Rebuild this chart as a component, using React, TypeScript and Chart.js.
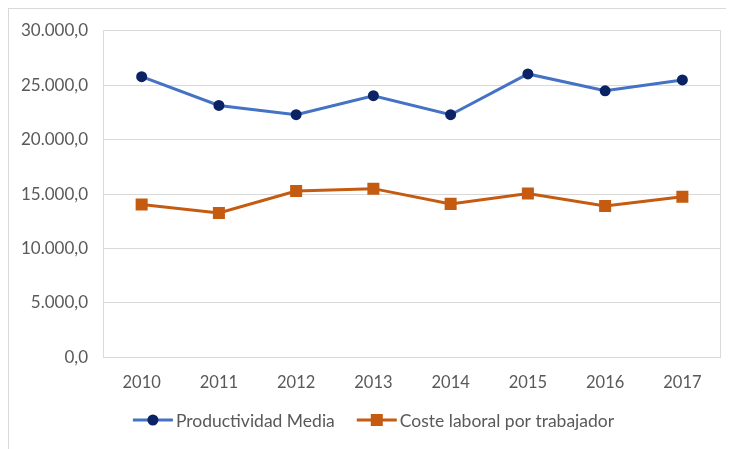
import React, { useEffect, useRef } from "react";
import { Chart, registerables } from "chart.js";

Chart.register(...registerables);

const years = ["2010", "2011", "2012", "2013", "2014", "2015", "2016", "2017"];
const productividadMedia = [25800, 23150, 22300, 24050, 22300, 26050, 24500, 25500];
const costeLaboral = [14050, 13270, 15280, 15500, 14100, 15050, 13900, 14750];
const seriesNames = ["Productividad Media", "Coste laboral por trabajador"];

const FONT = "Lato, 'Noto Sans', sans-serif";
const TEXT = "#595959";
const GRID = "#d9d9d9";
const BLUE = "#4472C4";
const NAVY = "#0B2265";
const ORANGE = "#C55A11";

const fmt = (v: number) =>
  v.toLocaleString("de-DE", { minimumFractionDigits: 1, maximumFractionDigits: 1 });

const sideBorders = {
  id: "sideBorders",
  beforeDatasetsDraw(chart: any) {
    const { ctx, chartArea } = chart;
    ctx.save();
    ctx.strokeStyle = GRID;
    ctx.lineWidth = 1;
    ctx.beginPath();
    ctx.moveTo(chartArea.left + 0.5, chartArea.top);
    ctx.lineTo(chartArea.left + 0.5, chartArea.bottom);
    ctx.moveTo(chartArea.right - 0.5, chartArea.top);
    ctx.lineTo(chartArea.right - 0.5, chartArea.bottom);
    ctx.stroke();
    ctx.restore();
  },
};

// Legend drawn as line + marker + text, like the spreadsheet legend
const lineLegend = {
  id: "lineLegend",
  afterDraw(chart: any) {
    const { ctx } = chart;
    const ds = chart.data.datasets;
    ctx.save();
    ctx.font = `17.5px ${FONT}`;
    ctx.textBaseline = "middle";
    const iconW = 40;
    const gapText = 3;
    const gapItem = 22;
    const widths = ds.map((d: any) => ctx.measureText(d.label).width);
    const total =
      widths.reduce((a: number, b: number) => a + b, 0) +
      ds.length * (iconW + gapText) +
      (ds.length - 1) * gapItem;
    let x = chart.width / 2 + 2 - total / 2;
    const y = chart.height - 29;
    ds.forEach((d: any, i: number) => {
      ctx.strokeStyle = d.borderColor;
      ctx.lineWidth = 3;
      ctx.beginPath();
      ctx.moveTo(x, y);
      ctx.lineTo(x + iconW, y);
      ctx.stroke();
      ctx.fillStyle = d.pointBackgroundColor;
      if (d.pointStyle === "circle") {
        ctx.beginPath();
        ctx.arc(x + iconW / 2, y, 5.5, 0, Math.PI * 2);
        ctx.fill();
      } else {
        ctx.fillRect(x + iconW / 2 - 6, y - 6, 12, 12);
      }
      ctx.fillStyle = TEXT;
      ctx.textAlign = "left";
      ctx.fillText(d.label, x + iconW + gapText, y + 1);
      x += iconW + gapText + widths[i] + gapItem;
    });
    ctx.restore();
  },
};

export default function App() {
  const ref = useRef<HTMLCanvasElement>(null);
  useEffect(() => {
    document.documentElement.style.overflow = "hidden";
    const chart = new Chart(ref.current!, {
      type: "line",
      data: {
        labels: years,
        datasets: [
          {
            label: seriesNames[0],
            data: productividadMedia,
            borderColor: BLUE,
            borderWidth: 3,
            pointStyle: "circle",
            pointRadius: 5.5,
            pointBackgroundColor: NAVY,
            pointBorderColor: NAVY,
            pointBorderWidth: 0,
          },
          {
            label: seriesNames[1],
            data: costeLaboral,
            borderColor: ORANGE,
            borderWidth: 3,
            pointStyle: "rect",
            pointRadius: 8.5,
            pointBackgroundColor: ORANGE,
            pointBorderColor: ORANGE,
            pointBorderWidth: 0,
          },
        ],
      },
      options: {
        animation: false,
        responsive: false,
        layout: { padding: { top: 8, left: -3, right: 13, bottom: 40 } },
        scales: {
          x: {
            offset: true,
            grid: { display: false, drawTicks: false },
            border: { display: false },
            ticks: { color: TEXT, font: { family: FONT, size: 16.5 }, padding: 16 },
          },
          y: {
            min: 0,
            max: 30000,
            grid: { color: GRID, drawTicks: false },
            border: { display: false },
            ticks: {
              stepSize: 5000,
              color: TEXT,
              font: { family: FONT, size: 17, lineHeight: 0.82 },
              padding: 15,
              callback: (v: any) => fmt(Number(v)),
            },
          },
        },
        plugins: {
          tooltip: { enabled: false },
          legend: { display: false },
        },
      },
      plugins: [sideBorders, lineLegend],
    });
    return () => chart.destroy();
  }, []);
  return (
    <div
      style={{
        width: 725,
        height: 440,
        borderTop: "1px solid #d9d9d9",
        borderLeft: "1px solid #d9d9d9",
        background: "#fff",
      }}
    >
      <canvas ref={ref} width={725} height={440} style={{ display: "block" }} />
    </div>
  );
}
